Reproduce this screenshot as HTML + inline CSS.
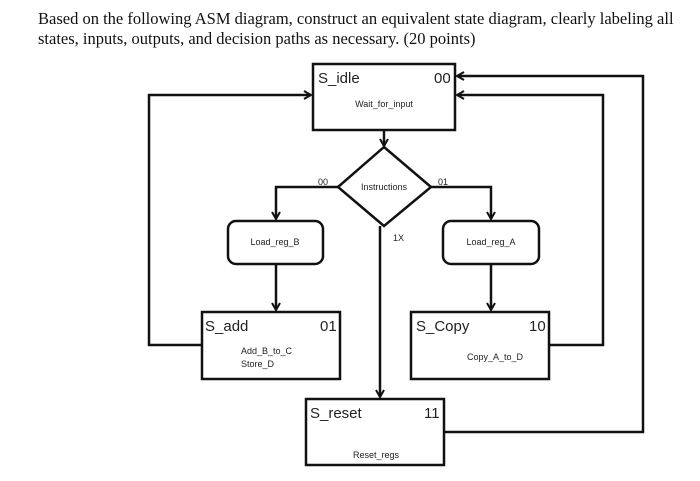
<!DOCTYPE html>
<html><head><style>
body{margin:0;width:700px;height:481px;background:#fff;overflow:hidden;position:relative}
.t{position:absolute;left:38px;top:9px;width:660px;font-family:"Liberation Serif",serif;font-size:16.5px;line-height:20px;color:#111}
svg{position:absolute;left:0;top:0}
</style></head><body>
<div class="t">Based on the following ASM diagram, construct an equivalent state diagram, clearly labeling all states, inputs, outputs, and decision paths as necessary. (20 points)</div>
<svg width="700" height="481" viewBox="0 0 700 481">
<defs><marker id="a" markerWidth="10" markerHeight="10" refX="8" refY="5" orient="auto" markerUnits="userSpaceOnUse"><path d="M1,1 L8,5 L1,9" fill="none" stroke="#111" stroke-width="2"/></marker></defs>
<g fill="none" stroke="#111" stroke-width="2.5">
<rect x="313" y="64" width="142" height="66"/>
<polygon points="384,147 431,187 384,226 338,187"/>
<rect x="228" y="221" width="95" height="43" rx="8"/>
<rect x="443" y="221" width="96" height="43" rx="8"/>
<rect x="202" y="312" width="138" height="67"/>
<rect x="411" y="312" width="138" height="67"/>
<rect x="306" y="399" width="138" height="66"/>
<g marker-end="url(#a)">
<line x1="384" y1="130" x2="384" y2="146"/>
<polyline points="338,187 276,187 276,219"/>
<polyline points="431,187 491,187 491,219"/>
<line x1="276" y1="264" x2="276" y2="310"/>
<line x1="491" y1="264" x2="491" y2="310"/>
<polyline points="380,226 380,397"/>
<polyline points="202,345 149,345 149,95 311,95"/>
<polyline points="549,345 603,345 603,95 457,95"/>
<polyline points="444,432 643,432 643,76 457,76"/>
</g></g>
<g font-family="Liberation Sans,sans-serif" fill="#222">
<text x="318" y="83" font-size="15">S_idle</text><text x="434" y="83" font-size="15">00</text>
<text x="384" y="107" font-size="9" text-anchor="middle">Wait_for_input</text>
<text x="384" y="190" font-size="9" text-anchor="middle">Instructions</text>
<text x="318" y="185" font-size="9">00</text><text x="438" y="185" font-size="9">01</text>
<text x="393" y="241" font-size="9">1X</text>
<text x="275" y="245" font-size="9" text-anchor="middle">Load_reg_B</text>
<text x="491" y="245" font-size="9" text-anchor="middle">Load_reg_A</text>
<text x="205" y="331" font-size="15">S_add</text><text x="320" y="331" font-size="15">01</text>
<text x="241" y="354" font-size="9">Add_B_to_C</text><text x="241" y="367" font-size="9">Store_D</text>
<text x="416" y="331" font-size="15">S_Copy</text><text x="529" y="331" font-size="15">10</text>
<text x="495" y="360" font-size="9" text-anchor="middle">Copy_A_to_D</text>
<text x="310" y="418" font-size="15">S_reset</text><text x="424" y="418" font-size="15">11</text>
<text x="376" y="458" font-size="9" text-anchor="middle">Reset_regs</text>
</g>
</svg>
</body></html>
